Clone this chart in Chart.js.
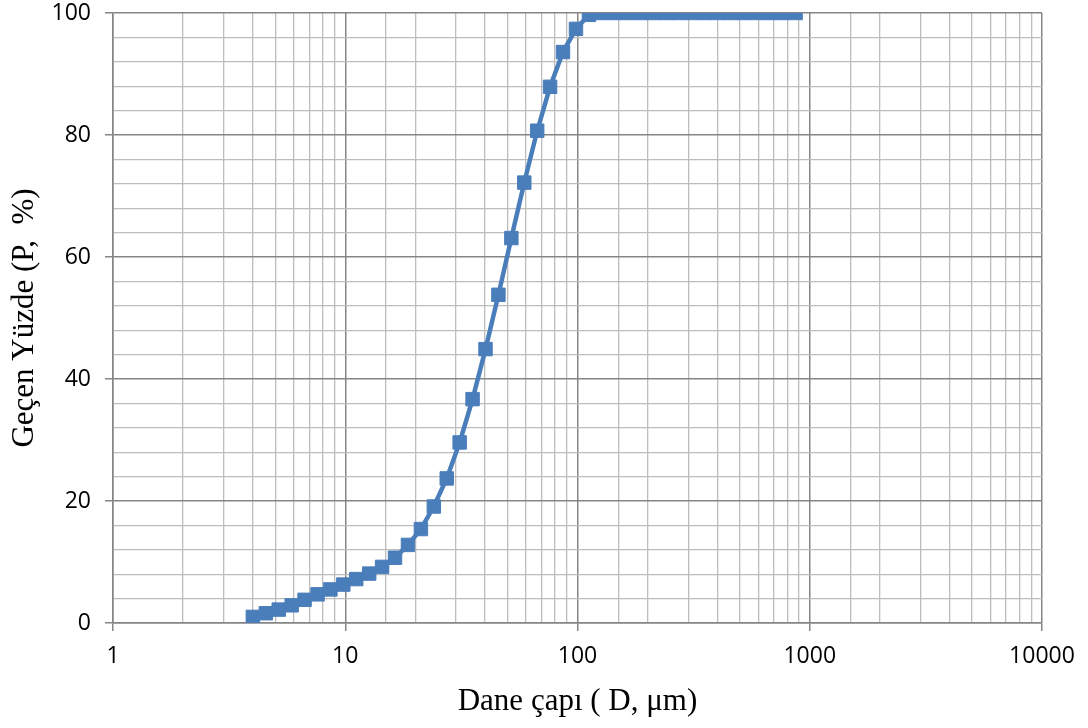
<!DOCTYPE html>
<html>
<head>
<meta charset="utf-8">
<script src="https://cdn.jsdelivr.net/npm/chart.js@4/dist/chart.umd.min.js"></script>
<style>
html,body{margin:0;padding:0;background:#fff;}
#wrap{width:1088px;height:728px;position:relative;}
</style>
</head>
<body>
<div id="wrap"><canvas id="c"></canvas></div>
<script>
const grainSize = [4.0, 4.55, 5.17, 5.88, 6.68, 7.6, 8.63, 9.81, 11.15, 12.68, 14.41, 16.38, 18.62, 21.17, 24.06, 27.35, 31.09, 35.34, 40.17, 45.66, 51.9, 59.0, 67.06, 76.2, 86.6, 98.5, 112, 127, 144.5, 164, 187, 212, 241, 274, 312, 354, 403, 458, 520, 591, 672, 764, 869];
const passingPct = [1.0, 1.6, 2.2, 2.9, 3.8, 4.7, 5.5, 6.3, 7.2, 8.1, 9.2, 10.7, 12.8, 15.4, 19.1, 23.7, 29.6, 36.7, 44.9, 53.8, 63.1, 72.2, 80.7, 87.9, 93.6, 97.4, 99.7, 100, 100, 100, 100, 100, 100, 100, 100, 100, 100, 100, 100, 100, 100, 100, 100];
const xTickLabels = [1, 10, 100, 1000, 10000];
const yTickLabels = [0, 20, 40, 60, 80, 100];
const xTitle = 'Dane çapı ( D, μm)';
const yTitle = 'Geçen Yüzde (P,  %)';

const points = grainSize.map((d, i) => ({x: d, y: passingPct[i]}));
const blue = '#4a7ebb';
const majorGrid = '#868686';
const minorGrid = '#bdbdbd';
const isDecade = v => xTickLabels.some(t => Math.abs(t - v) < 1e-9 * t);
const isMajorY = v => v % 20 === 0;

new Chart(document.getElementById('c'), {
  type: 'line',
  data: {
    datasets: [{
      data: points,
      borderColor: blue,
      backgroundColor: blue,
      borderWidth: 4.5,
      pointStyle: 'rect',
      pointRadius: 9.5,
      pointBorderWidth: 1,
      pointBorderColor: blue,
      pointBackgroundColor: blue,
      tension: 0,
      fill: false
    }]
  },
  options: {
    responsive: true,
    maintainAspectRatio: false,
    animation: false,
    layout: {padding: {top: 13, right: 46, bottom: 0, left: 0}},
    plugins: {legend: {display: false}, tooltip: {enabled: false}},
    scales: {
      x: {
        type: 'logarithmic',
        min: 1, max: 10000,
        afterFit: s => { s.height = 105; },
        border: {display: true, color: majorGrid, width: 1.5},
        grid: {
          color: ctx => isDecade(ctx.tick.value) ? majorGrid : minorGrid,
          tickColor: ctx => isDecade(ctx.tick.value) ? majorGrid : 'rgba(0,0,0,0)',
          tickLength: 8,
          lineWidth: ctx => isDecade(ctx.tick.value) ? 1.5 : 1.3
        },
        ticks: {
          autoSkip: false,
          maxRotation: 0,
          padding: 12,
          color: '#000',
          font: {family: 'Open Sans', size: 23},
          callback: v => isDecade(v) ? String(v) : ''
        },
        title: {
          display: true,
          text: xTitle,
          color: '#000',
          font: {family: 'Liberation Serif', size: 31},
          padding: {top: 0, bottom: 8}
        }
      },
      y: {
        min: 0, max: 100,
        afterFit: s => { s.width = 113; s.paddingTop = 0; s.paddingBottom = 0; },
        border: {display: true, color: majorGrid, width: 1.5},
        grid: {
          color: ctx => isMajorY(ctx.tick.value) ? majorGrid : minorGrid,
          tickColor: ctx => isMajorY(ctx.tick.value) ? majorGrid : 'rgba(0,0,0,0)',
          tickLength: 8,
          lineWidth: ctx => isMajorY(ctx.tick.value) ? 1.5 : 1.3
        },
        ticks: {
          stepSize: 4,
          autoSkip: false,
          padding: 14,
          color: '#000',
          font: {family: 'Open Sans', size: 23},
          callback: v => yTickLabels.includes(v) ? String(v) : ''
        },
        title: {
          display: true,
          text: yTitle,
          color: '#000',
          font: {family: 'Liberation Serif', size: 31},
          padding: {top: 6, bottom: 0}
        }
      }
    }
  }
});
</script>
</body>
</html>
